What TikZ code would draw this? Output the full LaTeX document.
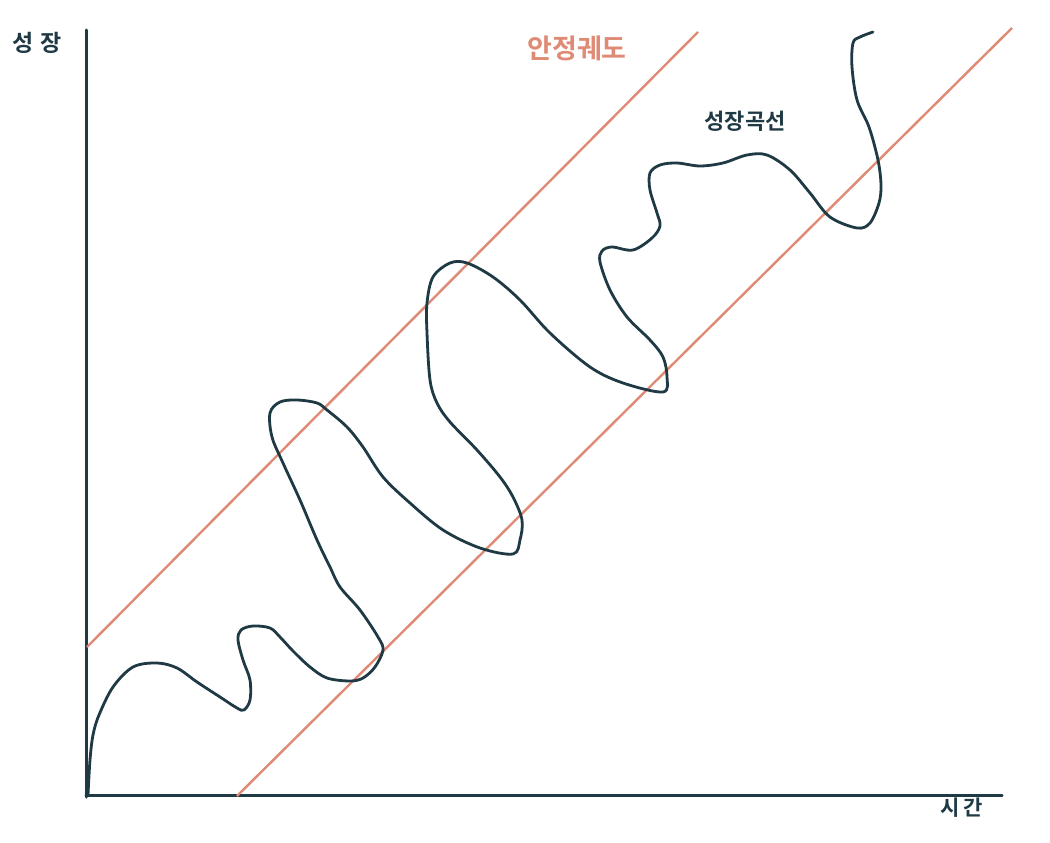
\documentclass[tikz,border=0pt]{standalone}
\usepackage{fontspec}
\newfontfamily\krfont{Noto Sans CJK KR}
\newfontfamily\krbold{Noto Sans CJK KR Bold}
\definecolor{ink}{HTML}{1F3A45}
\definecolor{trail}{HTML}{DF8A74}
\begin{document}
\begin{tikzpicture}[x=1pt,y=-1pt,
  axisline/.style={draw=ink,line width=3pt,line cap=round},
  bandline/.style={draw=trail,line width=2.4pt},
  curveline/.style={draw=ink,line width=2.8pt,line cap=round,line join=round},
  lbl/.style={inner sep=0pt,text=ink}]
\useasboundingbox[fill=white] (0,0) rectangle (1050,843);
% axes
\coordinate (ytop) at (86,30);
\coordinate (origin) at (86,797);
\coordinate (xend) at (1002,795);
\draw[axisline] (ytop) -- (origin);
\draw[axisline] (86,795) -- (xend);
% stable trajectory band
\coordinate (u1) at (87,647);
\coordinate (u2) at (698,32);
\coordinate (l1) at (237,796);
\coordinate (l2) at (1012,28);
\draw[bandline] (u1) -- (u2);
\draw[bandline] (l1) -- (l2);
% growth curve
\draw[curveline] plot[smooth,tension=0.55] coordinates {
(88,795) (90,760) (93,735) (99,715) (113,687) (133,667) (157,663) (177,668)
(197,682) (220,697) (237,708) (244,710) (250,700) (250,680) (243,660) (238,640)
(241,630) (253,626) (270,628) (280,637) (293,651) (310,667) (327,678) (350,681)
(363,678) (375,667) (383,650) (378,637) (360,610) (340,587) (330,567) (317,540)
(300,500) (283,463) (272,437) (270,413) (280,402) (297,400) (317,403) (327,410)
(347,427) (363,447) (383,477) (410,503) (443,530) (480,548) (513,554) (520,540)
(522,520) (513,497) (500,477) (477,450) (450,422) (437,403) (430,380) (427,333)
(427,303) (433,277) (450,263) (467,263) (493,277) (520,300) (550,333) (590,367)
(623,383) (663,392) (667,377) (663,357) (650,340) (627,317) (610,290) (600,262)
(602,251) (612,247) (633,250) (652,238) (660,226) (657,213) (650,190) (650,173)
(660,165) (677,163) (700,166) (723,163) (747,155) (767,155) (790,170) (810,193)
(830,217) (857,228) (870,223) (879,203) (881,185) (878,160) (869,127) (857,100)
(852,67) (853,43) (860,37) (873,32)};
% labels
\node[lbl,font=\krbold\fontsize{23}{26}\selectfont] (ylabel) at (37,43) {성\hspace{7pt}장};
\node[lbl,font=\krbold\fontsize{21}{24}\selectfont] (xlabel) at (962,808) {시\hspace{4pt}간};
\node[lbl,text=trail,font=\krbold\fontsize{27}{30}\selectfont] (bandlabel) at (577,48) {안정궤도};
\node[lbl,font=\krbold\fontsize{22}{25}\selectfont] (curvelabel) at (745,121) {성장곡선};
\end{tikzpicture}
\end{document}
